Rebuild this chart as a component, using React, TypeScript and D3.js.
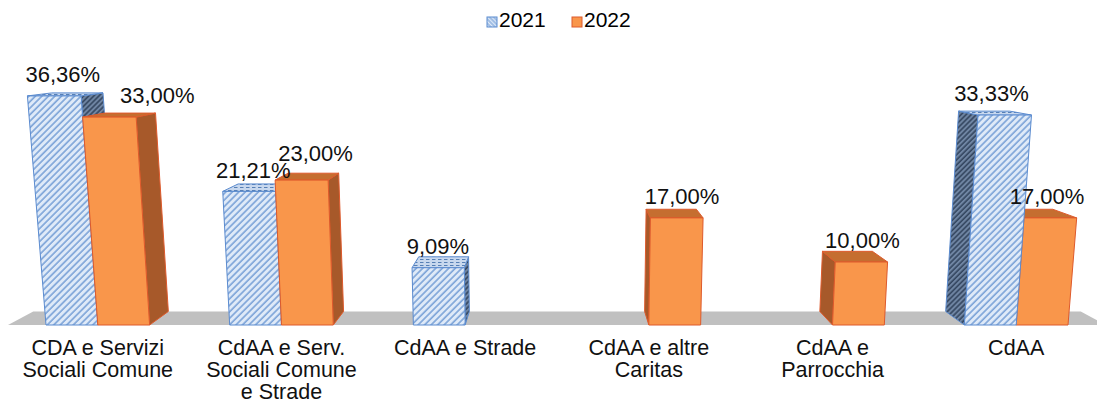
import React from "react";
import * as d3 from "d3";

const categories = [
  "CDA e Servizi Sociali Comune",
  "CdAA e Serv. Sociali Comune e Strade",
  "CdAA e Strade",
  "CdAA e altre Caritas",
  "CdAA e Parrocchia",
  "CdAA",
];
const categoryLines = [
  ["CDA e Servizi", "Sociali Comune"],
  ["CdAA e Serv.", "Sociali Comune", "e Strade"],
  ["CdAA e Strade"],
  ["CdAA e altre", "Caritas"],
  ["CdAA e", "Parrocchia"],
  ["CdAA"],
];
const seriesNames = ["2021", "2022"];
const values2021 = [36.36, 21.21, 9.09, 0, 0, 33.33];
const values2022 = [33.0, 23.0, 0, 17.0, 10.0, 17.0];

const W = 1097;
const H = 400;
const CX = 557;
const VY = 30;
const DEPTH = 0.046;
const VPERSP = 0.001;
const FONT = "'Liberation Sans', Arial, Helvetica, sans-serif";
const LABEL_SIZE = 22;

const itFormat = d3.formatLocale({
  decimal: ",",
  thousands: ".",
  grouping: [3],
  currency: ["€", ""],
}).format(".2%");

const x0 = d3
  .scaleBand<string>()
  .domain(categories)
  .range([46, 1068])
  .paddingInner(0.436)
  .paddingOuter(0);
const x1 = d3.scaleBand<string>().domain(seriesNames).range([0, x0.bandwidth()]);
const y = d3.scaleLinear().domain([0, 40]).range([325, 73]);

function proj(xb: number, v: number, d: number): [number, number] {
  const xs = CX + (xb - CX) * (1 + VPERSP * v);
  const ys = y(v);
  const s = 1 - DEPTH * d;
  return [CX + (xs - CX) * s, VY + (ys - VY) * s];
}

const poly = (pts: [number, number][]) =>
  pts.map((p) => `${p[0].toFixed(2)},${p[1].toFixed(2)}`).join(" ");

type Bar = {
  cat: string;
  idx: number;
  series: string;
  value: number;
  xl: number;
  xr: number;
};

const bars: Bar[] = [];
categories.forEach((c, i) => {
  const vals = [values2021[i], values2022[i]];
  seriesNames.forEach((s, j) => {
    const v = vals[j];
    if (!v) return;
    const xl = (x0(c) as number) + (x1(s) as number);
    bars.push({ cat: c, idx: i, series: s, value: v, xl, xr: xl + x1.bandwidth() });
  });
});
const drawOrder = [...bars].sort(
  (a, b) =>
    Math.abs((b.xl + b.xr) / 2 - CX) - Math.abs((a.xl + a.xr) / 2 - CX)
);

// label placement (approximate width of the "dd,dd%" text)
const textW = (s: string) => {
  let w = 0;
  for (const ch of s) w += ch === "," ? 0.278 : ch === "%" ? 0.889 : 0.556;
  return w * LABEL_SIZE;
};
type Lab = { x: number; y: number; text: string; w: number; bar: Bar };
const labels: Lab[] = bars.map((b) => {
  const xc = (b.xl + b.xr) / 2;
  const text = itFormat(b.value / 100);
  const shift = b.series === "2021" ? -3 : 8;
  return {
    x: proj(xc, b.value, 0.5)[0] + shift,
    y: proj(xc, b.value, 1)[1] - (0.5 + 0.28 * b.value),
    text,
    w: textW(text),
    bar: b,
  };
});
// avoid collisions of the 2022 label with the taller 2021 bar / label of the same group
labels.forEach((l) => {
  if (l.bar.series !== "2022") return;
  const other = labels.find((o) => o.bar.idx === l.bar.idx && o.bar.series === "2021");
  if (!other) return;
  const ob = other.bar;
  if (ob.value > l.bar.value && ob.xr < CX) {
    const right = proj(ob.xr, ob.value, 1)[0];
    const minLeft = right + 17;
    if (l.x - l.w / 2 < minLeft) l.x = minLeft + l.w / 2;
  }
  const h = 16;
  const overlapX = l.x - l.w / 2 < other.x + other.w / 2 && l.x + l.w / 2 > other.x - other.w / 2;
  const overlapY = l.y > other.y - h && l.y - h < other.y;
  if (overlapX && overlapY) {
    l.y = other.y - h - 1;
  }
});

const styles: Record<string, any> = {
  "2021": {
    front: "url(#p21front)",
    top: "url(#p21top)",
    side: "url(#p21side)",
    stroke: "#5b8bcf",
  },
  "2022": {
    front: "#f9964b",
    top: "#c56e30",
    side: "#a7592a",
    stroke: "#de5a2c",
  },
};

export default function App() {
  return (
    <svg width={W} height={H} style={{ display: "block", position: "absolute", left: 0, top: 0 }}>
      <defs>
        <pattern id="p21front" width="4.6" height="4.6" patternUnits="userSpaceOnUse" patternTransform="rotate(45)">
          <rect width="4.6" height="4.6" fill="#dfeaf8" />
          <line x1="1" y1="0" x2="1" y2="4.6" stroke="#6392d0" strokeWidth="1.3" />
        </pattern>
        <pattern id="p21side" width="3.6" height="3.6" patternUnits="userSpaceOnUse" patternTransform="rotate(45)">
          <rect width="3.6" height="3.6" fill="#6f85a3" />
          <line x1="1" y1="0" x2="1" y2="3.6" stroke="#2c3e57" strokeWidth="1.4" />
        </pattern>
        <pattern id="p21top" width="6" height="3" patternUnits="userSpaceOnUse">
          <rect width="6" height="3" fill="#c8d8ee" />
          <line x1="0" y1="1.5" x2="3.5" y2="1.5" stroke="#567fb5" strokeWidth="1" />
        </pattern>
        <pattern id="p21legend" width="3" height="3" patternUnits="userSpaceOnUse" patternTransform="rotate(-45)">
          <rect width="3" height="3" fill="#dfeaf8" />
          <line x1="1" y1="0" x2="1" y2="3" stroke="#6392d0" strokeWidth="1" />
        </pattern>
      </defs>
      <rect width={W} height={H} fill="#ffffff" />
      {/* Legend */}
      <g fontFamily={FONT} fontSize={21} fill="#000">
        <rect x={487} y={17} width={10} height={10} fill="url(#p21legend)" stroke="#5b8bcf" strokeWidth={1} />
        <text x={499} y={27}>{seriesNames[0]}</text>
        <rect x={572} y={17} width={10} height={10} fill="#f9964b" stroke="#de5a2c" strokeWidth={1} />
        <text x={584} y={27}>{seriesNames[1]}</text>
      </g>
      {/* Floor */}
      <polygon
        points={poly([proj(8, 0, 0), proj(1106, 0, 0), proj(1106, 0, 1), proj(8, 0, 1)])}
        fill="#c0c0c0"
      />
      {/* Bars */}
      {drawOrder.map((b, i) => {
        const st = styles[b.series];
        const v = b.value;
        const front = [proj(b.xl, 0, 0), proj(b.xr, 0, 0), proj(b.xr, v, 0), proj(b.xl, v, 0)] as [number, number][];
        const top = [proj(b.xl, v, 0), proj(b.xr, v, 0), proj(b.xr, v, 1), proj(b.xl, v, 1)] as [number, number][];
        let side: [number, number][] | null = null;
        if (b.xr < CX) side = [proj(b.xr, 0, 0), proj(b.xr, v, 0), proj(b.xr, v, 1), proj(b.xr, 0, 1)];
        else if (b.xl > CX) side = [proj(b.xl, 0, 0), proj(b.xl, v, 0), proj(b.xl, v, 1), proj(b.xl, 0, 1)];
        return (
          <g key={i} stroke={st.stroke} strokeWidth={1} strokeLinejoin="round">
            {side && <polygon points={poly(side)} fill={st.side} />}
            <polygon points={poly(top)} fill={st.top} />
            <polygon points={poly(front)} fill={st.front} />
          </g>
        );
      })}
      {/* Data labels */}
      <g fontFamily={FONT} fontSize={LABEL_SIZE} fill="#111" textAnchor="middle">
        {labels.map((l, i) => (
          <text key={i} x={l.x} y={l.y}>
            {l.text}
          </text>
        ))}
      </g>
      {/* Category labels */}
      <g fontFamily={FONT} fontSize={21.5} fill="#111" textAnchor="middle">
        {categories.map((c, i) => {
          const cx = (x0(c) as number) + x0.bandwidth() / 2;
          return (
            <text key={c} x={cx} y={355}>
              {categoryLines[i].map((ln, k) => (
                <tspan key={k} x={cx} dy={k === 0 ? 0 : 22}>
                  {ln}
                </tspan>
              ))}
            </text>
          );
        })}
      </g>
    </svg>
  );
}
